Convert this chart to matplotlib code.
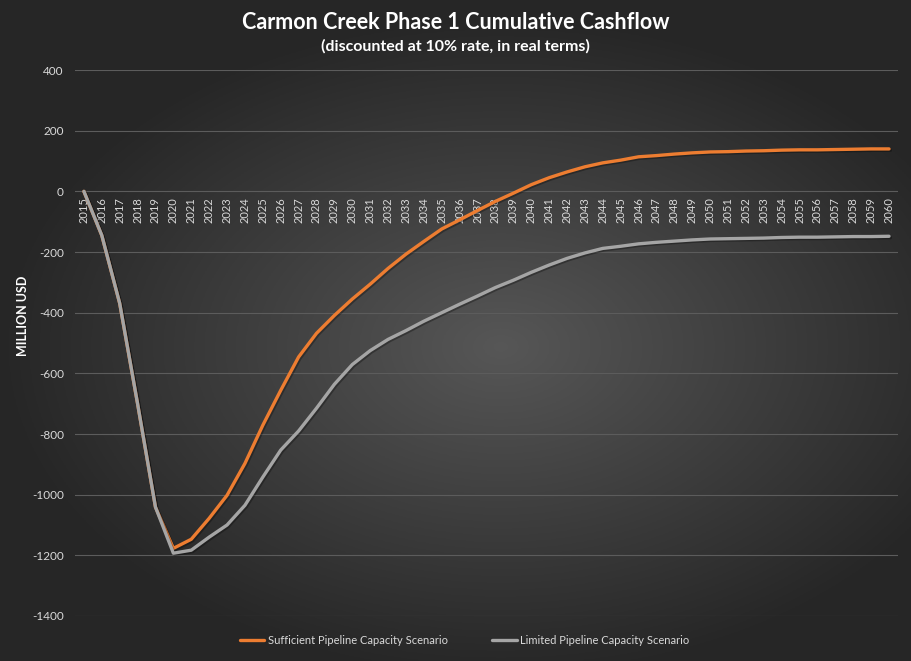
import numpy as np
import matplotlib
matplotlib.use('Agg')
import matplotlib.pyplot as plt
import matplotlib.patheffects as pe

years = [str(y) for y in range(2015, 2061)]

sufficient = [0, -145, -369, -700, -1041, -1177, -1147, -1078, -1002, -897,
              -771, -656, -546, -468, -409, -355, -306, -254, -207, -165,
              -124, -94, -63, -33, -6, 22, 45, 64, 81, 94,
              103, 114, 118, 123, 127, 130, 131, 133, 134, 136,
              137, 137, 138, 139, 140, 140]

limited = [0, -145, -369, -700, -1041, -1193, -1183, -1140, -1100, -1035,
           -942, -853, -790, -715, -636, -571, -525, -488, -459, -428,
           -400, -372, -345, -317, -293, -267, -243, -221, -203, -188,
           -181, -173, -168, -164, -160, -157, -156, -155, -154, -152,
           -151, -151, -150, -149, -149, -148]

y_ticks = [-1400, -1200, -1000, -800, -600, -400, -200, 0, 200, 400]

plt.rcParams['font.family'] = ['Lato', 'DejaVu Sans']
txt_color = '#d9d9d9'

fig = plt.figure(figsize=[9.11, 6.61], dpi=100)

# radial background gradient
bg = fig.add_axes([0, 0, 1, 1], zorder=-10)
gx, gy = np.meshgrid(np.linspace(-1, 1, 400), np.linspace(-1, 1, 300))
r = np.sqrt(((gx - 0.1) / 1.1) ** 2 + ((gy - 0.05) / 1.0) ** 2)
shade = np.clip(0.34 - 0.19 * r, 0.15, 0.34)
bg.imshow(np.dstack([shade, shade, shade]), aspect='auto', extent=[0, 1, 0, 1])
bg.set_axis_off()

ax = fig.add_axes([0.0823, 0.0681, 0.9034, 0.8259])
ax.set_facecolor('none')
x = np.arange(len(years))

shadow = [pe.SimpleLineShadow(offset=(1, -1), shadow_color='black', alpha=0.3), pe.Normal()]
ax.plot(x, sufficient, color='#ED7D31', lw=2.4, label='Sufficient Pipeline Capacity Scenario',
        solid_capstyle='round', path_effects=shadow, zorder=3)
ax.plot(x, limited, color='#A5A5A5', lw=2.4, label='Limited Pipeline Capacity Scenario',
        solid_capstyle='round', path_effects=shadow, zorder=4)

ax.set_xlim(-0.5, len(years) - 0.5)
ax.set_ylim(-1400, 400)
ax.set_yticks(y_ticks)
ax.set_yticklabels([str(v) for v in y_ticks])
ax.grid(axis='y', color='#5c5c5c', lw=0.8)
ax.set_axisbelow(True)

ax.set_xticks(x)
ax.set_xticklabels(years)
ax.spines['bottom'].set_position(('data', 0))
for s in ['top', 'right', 'left', 'bottom']:
    ax.spines[s].set_visible(False)
ax.tick_params(axis='x', length=0, pad=4, labelsize=8, colors=txt_color, labelrotation=90)
ax.tick_params(axis='y', length=0, pad=8, labelsize=8.5, colors=txt_color)

fig.text(0.025, 0.522, 'MILLION USD', rotation=90, color='white', fontsize=9,
         fontweight='bold', ha='center', va='center')

fig.text(0.5, 0.966, 'Carmon Creek Phase 1 Cumulative Cashflow', color='white',
         fontsize=15.5, fontweight='bold', ha='center', va='center')
fig.text(0.5, 0.930, '(discounted at 10% rate, in real terms)', color='white',
         fontsize=11.5, fontweight='bold', ha='center', va='center')

leg = fig.legend(loc='center', bbox_to_anchor=(0.51, 0.031), ncol=2, frameon=False,
                 fontsize=8, handlelength=2.2, handletextpad=0.3, columnspacing=4)
for t in leg.get_texts():
    t.set_color(txt_color)
for h in leg.get_lines():
    h.set_path_effects([])

fig.savefig('out.png', dpi=100)
